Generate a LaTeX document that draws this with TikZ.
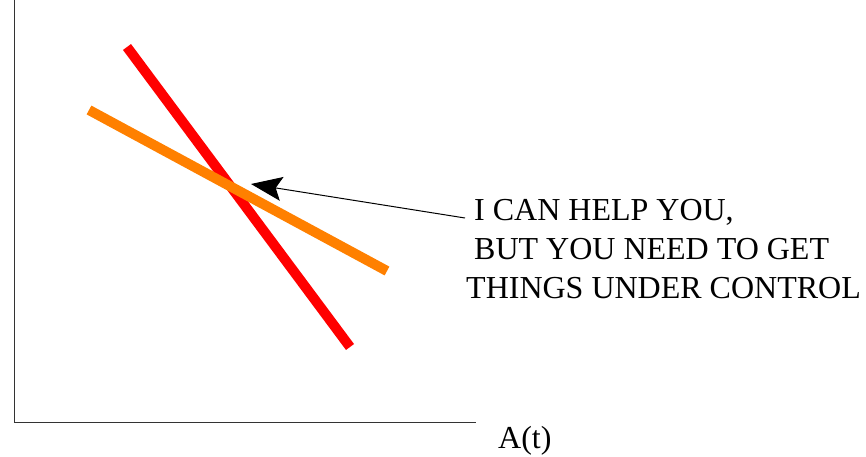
\documentclass[tikz,border=0pt]{standalone}
\usepackage{fontspec}
\setmainfont{Liberation Serif}
\usepackage{tikz}
\usetikzlibrary{arrows.meta,positioning}
\definecolor{lineRed}{HTML}{FF0000}
\definecolor{lineOrange}{HTML}{FF8000}
\tikzset{
  axis/.style={
    draw=black!80,
    line width=1pt
  },
  curve/.style={
    line width=10pt,
    line cap=butt
  },
  pointer/.style={
    -{Stealth[length=31pt,width=24pt,inset=6pt]},
    line width=1pt,
    draw=black
  },
  msgtext/.style={
    font=\fontsize{32}{39}\selectfont,
    align=left,
    inner sep=0pt
  }
}

\begin{document}
\begin{tikzpicture}[x=1pt,y=-1pt]
\useasboundingbox (0,0) rectangle (866,457);
% axes
\coordinate (top) at (14,0);
\coordinate (origin) at (14,422);
\coordinate (right) at (476,422);
\draw[axis] (top) -- (origin) -- (right);
\node[font=\fontsize{32}{39}\selectfont, anchor=base west, inner sep=0pt] (alabel) at (498,448) {A(t)};
% the two lines
\coordinate (r1) at (127,47);
\coordinate (r2) at (350,347);
\coordinate (o1) at (89,110);
\coordinate (o2) at (387,271);
\draw[curve, draw=lineRed] (r1) -- (r2);
\draw[curve, draw=lineOrange] (o1) -- (o2);
% message
\node[msgtext, anchor=north west] (msg) at (466,199) {\ I CAN HELP YOU,\\\ BUT YOU NEED TO GET\\THINGS UNDER CONTROL};
\coordinate (tip) at (251,184);
\coordinate (tail) at (465,218);
\draw[pointer] (tail) -- (tip);
\end{tikzpicture}
\end{document}
